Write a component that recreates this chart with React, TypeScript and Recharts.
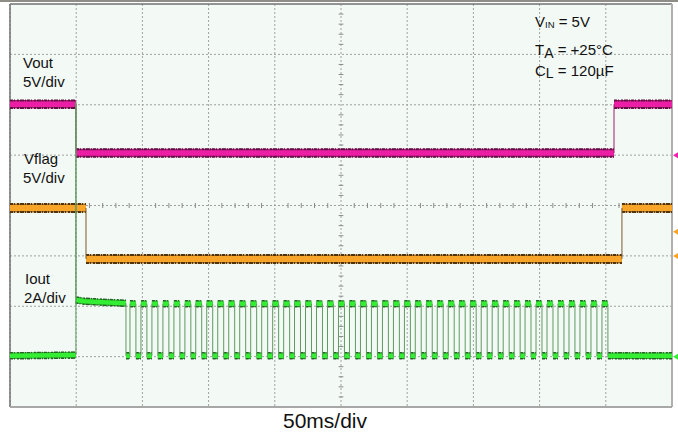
import React from 'react';
import { LineChart, Line, XAxis, YAxis, CartesianGrid, ReferenceLine, ReferenceDot } from 'recharts';

// scope capture: 50 ms/div over 10 divisions, 8 vertical divisions of 5 V (Vout scale)
const timeTicks = [0, 50, 100, 150, 200, 250, 300, 350, 400, 450, 500];
const voltTicks = [-20, -15, -10, -5, 0, 5, 10];
const minorTimeTicks = [
  10, 20, 30, 40, 60, 70, 80, 90, 110, 120, 130, 140, 160, 170, 180, 190, 210, 220, 230, 240,
  260, 270, 280, 290, 310, 320, 330, 340, 360, 370, 380, 390, 410, 420, 430, 440, 460, 470, 480, 490,
];
const minorVoltTicks = [
  -24, -23, -22, -21, -19, -18, -17, -16, -14, -13, -12, -11, -9, -8, -7, -6,
  -4, -3, -2, -1, 1, 2, 3, 4, 6, 7, 8, 9, 11, 12, 13, 14,
];

// Vout, 5V/div, ground marker on 5th division
const voutEdges = [49.8, 456.2];
const voutLevels = [5.05, 0.2, 5.05];

// Vflag, 5V/div, ground marker on 3rd division
const vflagEdges = [57.4, 462.2];
const vflagLevels = [4.75, -0.3, 4.75];
const vflagTrigger = 2.4;

// Iout, 2A/div, ground marker on 1st division
const ioutPre: [number, number][] = [[0, 0.03], [49.8, 0.06]];
const ioutSpike = 10.1;
const ioutFold: [number, number][] = [[49.8, 2.25], [56, 2.2], [70, 2.16], [87.6, 2.12]];
const pulseRises = [
  90.6, 98.9, 107.2, 115.5, 123.8, 132.1, 140.3, 148.6, 156.9, 165.2, 173.5, 181.8, 190.1, 198.4,
  206.7, 214.9, 223.2, 231.5, 239.8, 248.1, 256.4, 264.7, 273.0, 281.3, 289.6, 297.9, 306.1, 314.4,
  322.7, 331.0, 339.3, 347.6, 355.9, 364.2, 372.5, 380.8, 389.0, 397.3, 405.6, 413.9, 422.2, 430.5,
  438.8, 447.1,
];
const pulseWidth = 4.5;
const pulseHigh = 2.1;
const pulseLow = 0.03;

type Pt = { t: number; v: number | null };

const stepSegments = (edges: number[], levels: number[]): Pt[][] => {
  const bounds = [0, ...edges, 500];
  return levels.map((v, i) => [{ t: bounds[i], v }, { t: bounds[i + 1], v }]);
};

const ioutSegments = (): Pt[][] => {
  const segs: Pt[][] = [
    ioutPre.map(([t, v]) => ({ t, v })),
    ioutFold.map(([t, v]) => ({ t, v })),
    [{ t: ioutFold[ioutFold.length - 1][0], v: pulseLow }, { t: pulseRises[0], v: pulseLow }],
  ];
  pulseRises.forEach((r, i) => {
    const next = i + 1 < pulseRises.length ? pulseRises[i + 1] : 500;
    segs.push([{ t: r, v: pulseHigh }, { t: r + pulseWidth, v: pulseHigh }]);
    segs.push([{ t: r + pulseWidth, v: pulseLow }, { t: next, v: pulseLow }]);
  });
  return segs;
};

// flat parts, broken at each transition
const bandData = (segs: Pt[][]): Pt[] =>
  segs.flatMap((s, i) => (i < segs.length - 1 ? [...s, { t: s[s.length - 1].t, v: null }] : s));

// only the vertical transitions between flat parts (thin trace)
const edgeData = (segs: Pt[][], spikeAt = -1, spike = 0): Pt[] =>
  segs.slice(1).flatMap((s, i) => {
    const prev = segs[i][segs[i].length - 1];
    const mid = i === spikeAt ? [{ t: prev.t, v: spike }] : [];
    return [prev, ...mid, s[0], { t: s[0].t, v: null }];
  });

const voutSegs = stepSegments(voutEdges, voutLevels);
const vflagSegs = stepSegments(vflagEdges, vflagLevels);
const ioutSegs = ioutSegments();

const FONT = '"Liberation Sans", Arial, sans-serif';
const GRID = '#a0a0a0';
const SPECKLE = '3 1 1 2 2 1 4 1 1 1';

const channels = [
  { id: 'vout', segs: voutSegs, edge: edgeData(voutSegs), bright: '#ec1ea6', dark: '#5e1240', mid: '#a8186e', edgeColor: '#9c1c6c', wDark: 9.5, wBright: 5.5 },
  { id: 'vflag', segs: vflagSegs, edge: edgeData(vflagSegs), bright: '#f7a428', dark: '#503410', mid: '#a8701e', edgeColor: '#7a5a2a', wDark: 10, wBright: 6 },
  { id: 'iout', segs: ioutSegs, edge: edgeData(ioutSegs, 0, ioutSpike), bright: '#33ee33', dark: '#266226', mid: '#2fa82f', edgeColor: '#5f9a5f', wDark: 7.5, wBright: 4.5 },
];

const Marker = (color: string) => (props: any) => {
  const { cx, cy } = props;
  return <path d={`M${cx - 3},${cy} L${cx + 2},${cy - 3} L${cx + 2},${cy + 3} Z`} fill={color} />;
};

export default function App() {
  return (
    <div style={{ position: 'absolute', left: 0, top: 0, width: 678, height: 436, background: '#fff' }}>
      <div style={{ position: 'absolute', left: 0, top: 0, width: 678, height: 2, background: '#8e8e86' }} />
      <LineChart width={678} height={436} margin={{ top: 4, right: 6, bottom: 29, left: 10 }}>
        <XAxis type="number" dataKey="t" domain={[0, 500]} ticks={timeTicks} hide />
        <YAxis yAxisId="vout" type="number" domain={[-25, 15]} ticks={voltTicks} hide />
        <YAxis yAxisId="vflag" type="number" domain={[-15, 25]} hide />
        <YAxis yAxisId="iout" type="number" domain={[-2, 14]} hide />
        <CartesianGrid yAxisId="vout" horizontal={false} stroke={GRID} strokeDasharray="2 2" fill="#f3faf6" />
        {voltTicks.map((d) => (
          <ReferenceLine key={`h${d}`} yAxisId="vout" y={d} stroke={GRID} strokeDasharray="2 2" />
        ))}
        {minorVoltTicks.map((d) => (
          <ReferenceLine key={`mv${d}`} yAxisId="vout" segment={[{ x: 248.2, y: d }, { x: 251.8, y: d }]} stroke="#8a8a8a" />
        ))}
        {minorTimeTicks.map((t) => (
          <ReferenceLine key={`mh${t}`} yAxisId="vout" segment={[{ x: t, y: -5.25 }, { x: t, y: -4.75 }]} stroke="#8a8a8a" />
        ))}
        <ReferenceLine yAxisId="vout" x={0} stroke="#707070" strokeWidth={1.5} />
        <ReferenceLine yAxisId="vout" y={15} stroke="#707070" strokeWidth={1.5} />
        <ReferenceLine yAxisId="vout" x={500} stroke="#b0b0b0" strokeWidth={2} />
        <ReferenceLine yAxisId="vout" y={-25} stroke="#a8a8a8" strokeWidth={2} />
        {channels.map((c) => (
          <Line key={`${c.id}-m`} yAxisId={c.id} data={bandData(c.segs)} dataKey="v" type="linear"
            stroke={c.mid} strokeWidth={c.wDark - 1} dot={false} activeDot={false} isAnimationActive={false} />
        ))}
        {channels.map((c) => (
          <Line key={`${c.id}-d`} yAxisId={c.id} data={bandData(c.segs)} dataKey="v" type="linear"
            stroke={c.dark} strokeWidth={c.wDark} strokeDasharray={SPECKLE} dot={false} activeDot={false} isAnimationActive={false} />
        ))}
        {channels.map((c) => (
          <Line key={`${c.id}-b`} yAxisId={c.id} data={bandData(c.segs)} dataKey="v" type="linear"
            stroke={c.bright} strokeWidth={c.wBright} dot={false} activeDot={false} isAnimationActive={false} />
        ))}
        {channels.map((c) => (
          <Line key={`${c.id}-e`} yAxisId={c.id} data={c.edge} dataKey="v" type="linear"
            stroke={c.edgeColor} strokeWidth={1} dot={false} activeDot={false} isAnimationActive={false} />
        ))}
        <ReferenceDot yAxisId="vout" x={503} y={0} ifOverflow="visible" shape={Marker('#ee22aa')} />
        <ReferenceDot yAxisId="vflag" x={503} y={vflagTrigger} ifOverflow="visible" shape={Marker('#f7a428')} />
        <ReferenceDot yAxisId="vflag" x={503} y={0} ifOverflow="visible" shape={Marker('#f7a428')} />
        <ReferenceDot yAxisId="iout" x={503} y={0} ifOverflow="visible" shape={Marker('#33ee33')} />
      </LineChart>
      <svg width={678} height={436} style={{ position: 'absolute', left: 0, top: 0, pointerEvents: 'none' }}
        fontFamily={FONT} fill="#111">
        <text x={23} y={68} fontSize={15}>Vout</text>
        <text x={23} y={87} fontSize={15}>5V/div</text>
        <text x={24} y={164} fontSize={15}>Vflag</text>
        <text x={23} y={183} fontSize={15}>5V/div</text>
        <text x={25} y={284} fontSize={15}>Iout</text>
        <text x={24} y={303} fontSize={15}>2A/div</text>
        <text x={535} y={27} fontSize={15}>
          V<tspan fontSize={9.5} dy={1}>IN</tspan><tspan dy={-1}> = 5V</tspan>
        </text>
        <text x={535} y={55} fontSize={15}>
          T<tspan fontSize={14} dy={2.5}>A</tspan><tspan dy={-2.5}> = +25°C</tspan>
        </text>
        <text x={535} y={76} fontSize={15}>
          C<tspan fontSize={14} dy={2}>L</tspan><tspan dy={-2}> = 120µF</tspan>
        </text>
        <text x={325} y={428} fontSize={21} textAnchor="middle">50ms/div</text>
      </svg>
    </div>
  );
}
